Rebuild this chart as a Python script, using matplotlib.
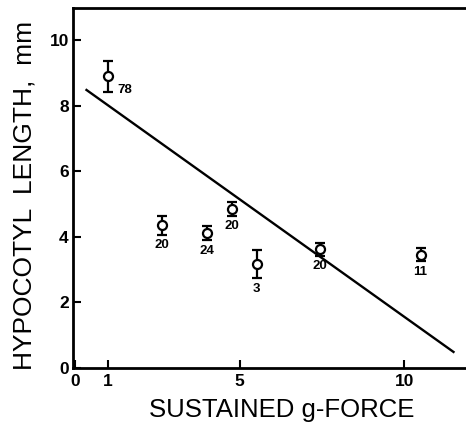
import matplotlib
matplotlib.use("Agg")
import matplotlib.pyplot as plt

# data
g_force = [1.0, 2.64, 4.0, 4.76, 5.52, 7.45, 10.5]
length_mm = [8.9, 4.35, 4.11, 4.85, 3.17, 3.62, 3.45]
err_mm = [0.47, 0.29, 0.22, 0.22, 0.44, 0.2, 0.2]
n_labels = ["78", "20", "24", "20", "3", "20", "11"]
fit_x = [0.35, 11.5]
fit_y = [8.48, 0.49]
xticks = [0, 1, 5, 10]
yticks = [0, 2, 4, 6, 8, 10]

plt.rcParams['font.family'] = ['Liberation Sans', 'DejaVu Sans']

fig = plt.figure(figsize=(4.66, 4.22), dpi=100)
ax = fig.add_axes([73/466, (422-368)/422, 1 - 73/466, (368-8)/422])

ax.plot(fit_x, fit_y, color='black', lw=1.7)
ax.errorbar(g_force, length_mm, yerr=err_mm, fmt='o', mfc='white', mec='black',
            mew=1.6, ms=6.5, ecolor='black', elinewidth=1.6, capsize=3.5, capthick=1.6)

for i, (x, y, e, lab) in enumerate(zip(g_force, length_mm, err_mm, n_labels)):
    if i == 0:
        ax.annotate(lab, (x, y), xytext=(7, -10), textcoords='offset points',
                    ha='left', va='center', fontsize=9.5, fontweight='bold')
    else:
        ax.annotate(lab, (x, y - e), xytext=(0, -3), textcoords='offset points',
                    ha='center', va='top', fontsize=9.5, fontweight='bold')

ax.set_xlim(-0.06, 11.88)
ax.set_ylim(0, 10.98)
ax.set_xticks(xticks)
ax.set_yticks(yticks)
ax.set_xticklabels([str(t) for t in xticks], fontsize=12.5, fontweight='bold')
ax.set_yticklabels([str(t) for t in yticks], fontsize=12.5, fontweight='bold')
ax.tick_params(direction='in', length=6, width=1.5, pad=3)
ax.tick_params(axis='x', pad=4)

ax.spines['right'].set_visible(False)
for s in ['left', 'bottom', 'top']:
    ax.spines[s].set_linewidth(2)

ax.set_xlabel('SUSTAINED g-FORCE', fontsize=18.5)
ax.xaxis.set_label_coords(0.53, -0.083)
ax.set_ylabel('HYPOCOTYL  LENGTH,  mm', fontsize=19)
ax.yaxis.set_label_coords(-0.092, 0.478)

fig.savefig('out.png', dpi=100)
